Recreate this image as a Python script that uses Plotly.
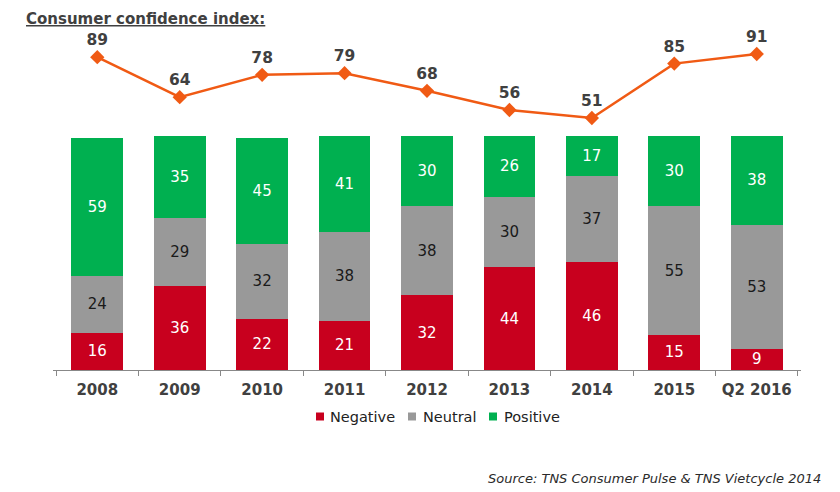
import plotly.graph_objects as go

categories = ["2008", "2009", "2010", "2011", "2012", "2013", "2014", "2015", "Q2 2016"]
negative = [16, 36, 22, 21, 32, 44, 46, 15, 9]
neutral = [24, 29, 32, 38, 38, 30, 37, 55, 53]
positive = [59, 35, 45, 41, 30, 26, 17, 30, 38]
confidence = [89, 64, 78, 79, 68, 56, 51, 85, 91]
series_names = ["Negative", "Neutral", "Positive"]
series_colors = ["#C8001E", "#999999", "#00B050"]

FONT = "DejaVu Sans"
W, H = 832, 484
L, R, T, B = 45, 39, 12, 122
PW, PH = W - L - R, H - T - B

def px(x):
    return (x - L) / PW

def py(y):
    return (H - B - y) / PH

fig = go.Figure()

def bar(name, vals, color, tcolor):
    fig.add_trace(go.Bar(
        x=categories, y=vals, name=name, marker=dict(color=color, line=dict(width=0)),
        text=[str(v) for v in vals], textposition="inside", insidetextanchor="middle",
        textangle=0, constraintext="none", showlegend=False,
        textfont=dict(family=FONT, size=15, color=tcolor), hoverinfo="skip",
    ))

bar(series_names[0], negative, series_colors[0], "white")
bar(series_names[1], neutral, series_colors[1], "#1a1a1a")
bar(series_names[2], positive, series_colors[2], "white")

fig.add_trace(go.Scatter(
    x=categories, y=confidence, yaxis="y2", mode="lines+markers+text",
    line=dict(color="#F05A14", width=2.5),
    marker=dict(symbol="diamond", size=11, color="#F05A14"),
    text=[str(v) for v in confidence], textposition="top center",
    textfont=dict(family=FONT, size=15.5, color="#404040", weight="bold"),
    showlegend=False, cliponaxis=False,
))

annotations = [
    dict(text="<b><u>Consumer confidence index:</u></b>", xref="paper", yref="paper",
         x=px(16), y=py(0), xanchor="left", yanchor="top", showarrow=False,
         font=dict(family=FONT, size=15, color="#404040")),
    dict(text="<i>Source: TNS Consumer Pulse & TNS Vietcycle 2014</i>", xref="paper", yref="paper",
         x=px(815), y=py(470), xanchor="right", yanchor="middle", showarrow=False,
         font=dict(family=FONT, size=13, color="#2a2a2a")),
]
shapes = []
sq_centers = [312, 404, 485]
txt_starts = [320, 413, 494]
for name, color, cx, tx in zip(series_names, series_colors, sq_centers, txt_starts):
    shapes.append(dict(type="rect", xref="paper", yref="paper",
                       x0=px(cx - 4), x1=px(cx + 4), y0=py(408.5 + 4), y1=py(408.5 - 4),
                       fillcolor=color, line=dict(width=0)))
    annotations.append(dict(text=name, xref="paper", yref="paper", x=px(tx), y=py(408.5),
                            xanchor="left", yanchor="middle", showarrow=False,
                            font=dict(family=FONT, size=14.5, color="#222222")))

fig.update_layout(
    width=W, height=H, barmode="stack", bargap=0.373,
    margin=dict(l=L, r=R, t=T, b=B),
    paper_bgcolor="white", plot_bgcolor="white",
    font=dict(family=FONT, color="#404040"),
    showlegend=False,
    xaxis=dict(showline=True, linecolor="#888888", linewidth=1, ticks="outside",
               tickson="boundaries", ticklen=5, tickcolor="#888888",
               ticklabelstandoff=6,
               tickfont=dict(family=FONT, size=15, color="#404040", weight="bold"),
               showgrid=False),
    yaxis=dict(range=[0, PH / 2.34], visible=False, showgrid=False),
    yaxis2=dict(range=[91 - (H - B - 46) / 1.6, 91 + (46 - T) / 1.6], overlaying="y",
                visible=False, showgrid=False),
    annotations=annotations,
    shapes=shapes,
)

fig.write_html("out.html")
